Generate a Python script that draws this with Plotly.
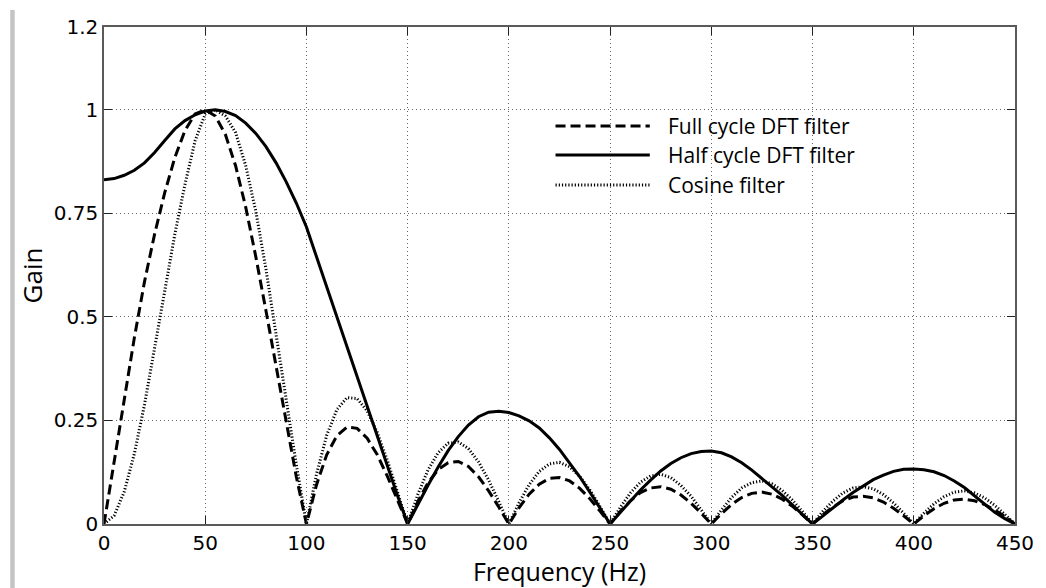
import plotly.graph_objects as go

freq = [0, 5, 10, 15, 20, 25, 30, 35, 40, 45, 50, 55, 60, 65, 70, 75, 80, 85, 90, 95,
        100, 105, 110, 115, 120, 125, 130, 135, 140, 145, 150, 155, 160, 165, 170, 175,
        180, 185, 190, 195, 200, 205, 210, 215, 220, 225, 230, 235, 240, 245, 250, 255,
        260, 265, 270, 275, 280, 285, 290, 295, 300, 305, 310, 315, 320, 325, 330, 335,
        340, 345, 350, 355, 360, 365, 370, 375, 380, 385, 390, 395, 400, 405, 410, 415,
        420, 425, 430, 435, 440, 445, 450]

full_cycle = [0, 0.150, 0.300, 0.450, 0.585, 0.700, 0.800, 0.885, 0.950, 0.990,
              1.000, 0.985, 0.940, 0.865, 0.765, 0.645, 0.515, 0.378, 0.242, 0.114,
              0, 0.095, 0.167, 0.213, 0.234, 0.231, 0.207, 0.167, 0.115, 0.058,
              0, 0.054, 0.099, 0.131, 0.148, 0.151, 0.139, 0.114, 0.080, 0.041,
              0, 0.039, 0.072, 0.096, 0.110, 0.112, 0.104, 0.086, 0.061, 0.031,
              0, 0.030, 0.056, 0.076, 0.087, 0.090, 0.084, 0.070, 0.050, 0.026,
              0, 0.025, 0.047, 0.064, 0.074, 0.077, 0.072, 0.060, 0.043, 0.022,
              0, 0.022, 0.041, 0.056, 0.065, 0.067, 0.063, 0.053, 0.038, 0.020,
              0, 0.020, 0.037, 0.050, 0.058, 0.060, 0.056, 0.047, 0.034, 0.018,
              0]

half_cycle = [0.831, 0.834, 0.842, 0.854, 0.872, 0.897, 0.926, 0.954, 0.974, 0.988,
              0.997, 1.000, 0.996, 0.986, 0.968, 0.943, 0.911, 0.872, 0.826, 0.775,
              0.717, 0.645, 0.572, 0.499, 0.426, 0.353, 0.280, 0.208, 0.138, 0.068,
              0, 0.047, 0.093, 0.137, 0.177, 0.211, 0.239, 0.259, 0.270, 0.272,
              0.269, 0.261, 0.249, 0.232, 0.208, 0.180, 0.148, 0.114, 0.077, 0.039,
              0, 0.028, 0.055, 0.082, 0.106, 0.128, 0.146, 0.160, 0.170, 0.175,
              0.176, 0.172, 0.162, 0.148, 0.130, 0.110, 0.090, 0.069, 0.046, 0.023,
              0, 0.019, 0.039, 0.058, 0.076, 0.092, 0.107, 0.118, 0.127, 0.132,
              0.133, 0.131, 0.126, 0.117, 0.104, 0.088, 0.068, 0.048, 0.028, 0.013,
              0]

cosine = [0, 0.020, 0.078, 0.170, 0.288, 0.424, 0.565, 0.700, 0.820, 0.925,
          0.990, 1.000, 0.985, 0.945, 0.865, 0.755, 0.615, 0.460, 0.300, 0.143,
          0, 0.121, 0.214, 0.276, 0.305, 0.303, 0.273, 0.221, 0.153, 0.077,
          0, 0.071, 0.130, 0.172, 0.195, 0.198, 0.182, 0.150, 0.106, 0.054,
          0, 0.051, 0.095, 0.127, 0.145, 0.149, 0.138, 0.115, 0.082, 0.042,
          0, 0.040, 0.075, 0.101, 0.116, 0.120, 0.112, 0.093, 0.067, 0.034,
          0, 0.034, 0.064, 0.087, 0.100, 0.104, 0.097, 0.081, 0.058, 0.030,
          0, 0.030, 0.055, 0.075, 0.087, 0.090, 0.085, 0.071, 0.051, 0.026,
          0, 0.026, 0.049, 0.066, 0.077, 0.080, 0.075, 0.063, 0.045, 0.023,
          0]

x_ticks = [0, 50, 100, 150, 200, 250, 300, 350, 400, 450]
y_ticks = [0, 0.25, 0.5, 0.75, 1, 1.2]
y_tick_text = ["0", "0.25", "0.5", "0.75", "1", "1.2"]
series_names = ["Full cycle DFT filter", "Half cycle DFT filter", "Cosine filter"]

FONT = "Open Sans"
TICK_FONT = "DejaVu Sans"
DASHED = "10px,5px"
DOTTED = "1.2px,2px"

fig = go.Figure()
fig.add_trace(go.Scatter(x=freq, y=full_cycle, mode="lines", name=series_names[0],
                         line=dict(color="black", width=3, dash=DASHED)))
fig.add_trace(go.Scatter(x=freq, y=half_cycle, mode="lines", name=series_names[1],
                         line=dict(color="black", width=3)))
fig.add_trace(go.Scatter(x=freq, y=cosine, mode="lines", name=series_names[2],
                         line=dict(color="black", width=3, dash=DOTTED)))

L, R, T, B = 104, 24, 27, 64
W, H = 1046, 588
pw, ph = W - L - R, H - T - B

def px(x):
    return (x - L) / pw

def py(y):
    return (H - B - y) / ph

# custom legend (long line samples as in the reference)
leg_rows = [126, 155, 185]
leg_styles = [dict(color="black", width=3, dash=DASHED),
              dict(color="black", width=3),
              dict(color="black", width=3, dash=DOTTED)]
shapes = []
annotations = []
for name, yy, st in zip(series_names, leg_rows, leg_styles):
    shapes.append(dict(type="line", xref="paper", yref="paper",
                       x0=px(559), x1=px(654), y0=py(yy), y1=py(yy), line=st))
    annotations.append(dict(xref="paper", yref="paper", x=px(670), y=py(yy),
                            xanchor="left", yanchor="middle", showarrow=False,
                            text=name, font=dict(family=FONT, size=21, color="black")))

# light grey bar at the left edge of the picture
shapes.append(dict(type="rect", xref="paper", yref="paper",
                   x0=px(9.5), x1=px(14), y0=py(588), y1=py(10),
                   fillcolor="#c4c4c4", line=dict(width=0), layer="below"))

fig.update_layout(
    width=W, height=H,
    margin=dict(l=L, r=R, t=T, b=B),
    paper_bgcolor="white", plot_bgcolor="white",
    showlegend=False,
    font=dict(family=FONT, color="black"),
    shapes=shapes, annotations=annotations,
)

axis_common = dict(showline=True, linecolor="#5a5a5a", linewidth=1.5, mirror="allticks",
                   ticks="inside", ticklen=8, tickwidth=1.2, tickcolor="#222",
                   showgrid=True, gridcolor="#666", gridwidth=1, griddash="1px,3px",
                   zeroline=False, tickfont=dict(family=TICK_FONT, size=20, color="black"))

fig.update_xaxes(range=[0, 450], tickvals=x_ticks,
                 title=dict(text="Frequency (Hz)", font=dict(family=FONT, size=25, color="black"),
                            standoff=4),
                 **axis_common)
fig.update_yaxes(range=[0, 1.2], tickvals=y_ticks, ticktext=y_tick_text,
                 title=dict(text="Gain", font=dict(family=FONT, size=26, color="black"),
                            standoff=4),
                 **axis_common)

fig.write_html("out.html")
